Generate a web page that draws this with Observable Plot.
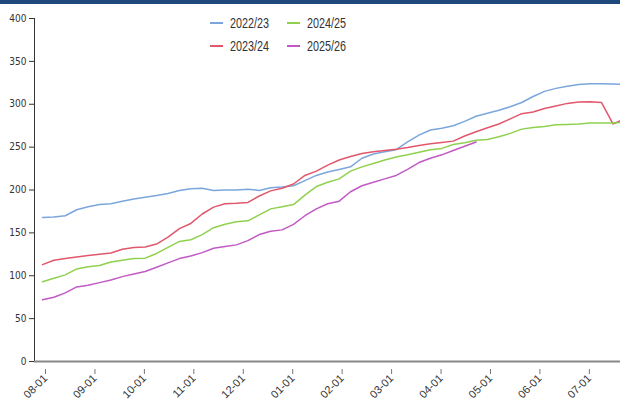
<!DOCTYPE html>
<html><head><meta charset="utf-8">
<script src="https://cdn.jsdelivr.net/npm/d3@7"></script>
<script src="https://cdn.jsdelivr.net/npm/@observablehq/plot@0.6"></script>
<style>
body{margin:0;background:#fff;}
#wrap{position:relative;width:620px;height:401px;overflow:hidden;background:#fff;}
#bar{height:4px;background:#1f497d;}
#legend{position:absolute;left:210px;top:11px;display:grid;grid-template-columns:77px 77px;grid-auto-flow:column;grid-template-rows:23px 23px;font-family:"Liberation Sans",Arial,sans-serif;font-size:15px;color:#333;}
#legend .it{display:flex;align-items:center;height:23px;}
#legend .sw{display:inline-block;width:13px;height:2px;margin-right:7px;flex:none;}
#legend .tx{display:inline-block;transform:scaleX(0.72);transform-origin:left center;white-space:nowrap;}
</style>
</head><body>
<div id="wrap"><div id="bar"></div><div id="chart"></div><div id="legend"></div></div>
<script>
const seasons = ["2022/23", "2023/24", "2024/25", "2025/26"];
const colors = ["#7ba6dc", "#e1576c", "#8fd14e", "#c15ac4"];
const monthLabels = ["08-01","09-01","10-01","11-01","12-01","01-01","02-01","03-01","04-01","05-01","06-01","07-01"];
const yTicks = [0, 50, 100, 150, 200, 250, 300, 350, 400];
const firstWeekOffset = 0.7; // weeks after 08-01 of the first weekly point

const s2223 = [168,168.5,170,177,180.5,183,184,187,189.5,191.5,193.5,196,199.5,201.5,202,199.5,200,200,201,199.5,202.5,203.5,205,211,217,221,224,227,237,242,244.5,247,256,264,270,272,275,280,286,289.5,293,297,302,309,315,318.5,321,323,324,324,323.5,323];
const s2324 = [113,118,120,122,123.5,125,126.5,131,133,133.5,137,145,155,161,172,180,184,184.5,185.5,193,199,202,207,217,222,229,235,239,242.5,244.5,246,247.5,249.5,252,254,255.5,257,263,268,272.5,277,283,289,291,295,298,301,302.5,303,302,277,283];
const s2425 = [93,97,101,108,110.5,112,116,118,120,120.5,126,133,140,142,148,156,160,163,164,171,178,180.5,183,194,204,209,213,222,227,231,235,238.5,241,244,247,248.5,253,255,258,259,262,266,271,273,274,276,276.5,277,278,278,278,279];
const s2526 = [72,75,80,87,89,92,95,99,102,105,110,115,120,123,127,132,134,136,141,148,152,153.5,160,170,178,184,187,198,205,209,213,217,224,232,237,241,246,251,256];

const seriesValues = [s2223, s2324, s2425, s2526];
const rows = [];
seriesValues.forEach((vals, k) => vals.forEach((v, i) => rows.push({season: seasons[k], week: i + firstWeekOffset, value: v})));

const weeksPerMonth = 52 / 12;
const tickPos = monthLabels.map((_, m) => m * weeksPerMonth);
const labelAt = new Map(tickPos.map((p, m) => [p, monthLabels[m]]));

const chart = Plot.plot({
  width: 620, height: 397,
  marginLeft: 34, marginRight: 0, marginTop: 14, marginBottom: 40,
  style: {background: "transparent", fontFamily: "'Liberation Sans', Arial, sans-serif"},
  x: {type: "linear", domain: [0, 51.36], axis: null, label: null},
  y: {domain: [0, 400], axis: null, label: null},
  color: {domain: seasons, range: colors},
  marks: [
    Plot.ruleX([0], {stroke: "#333", strokeWidth: 1}),
    Plot.axisY({ticks: yTicks, label: null, tickSize: 5, tickPadding: 3, stroke: "#333", fill: "#333", fontSize: 10, fontFamily: "'DejaVu Sans Condensed','DejaVu Sans',sans-serif"}),
    Plot.lineY(rows, {x: "week", y: "value", z: "season", stroke: "season", strokeWidth: 1.5, clip: true}),
    Plot.ruleY([0], {stroke: "#888", strokeWidth: 2}),
    Plot.axisX({ticks: tickPos, label: null, tickFormat: d => labelAt.get(d), tickRotate: -45, tickSize: 5, tickPadding: 2, stroke: "#777", fill: "#333", fontSize: 11, dx: 11, dy: 8})
  ]
});
document.getElementById("chart").appendChild(chart);

const lg = document.getElementById("legend");
seasons.forEach((s, k) => {
  const it = document.createElement("div");
  it.className = "it";
  it.innerHTML = `<span class="sw" style="background:${colors[k]}"></span><span class="tx">${s}</span>`;
  lg.appendChild(it);
});
</script>
</body></html>
